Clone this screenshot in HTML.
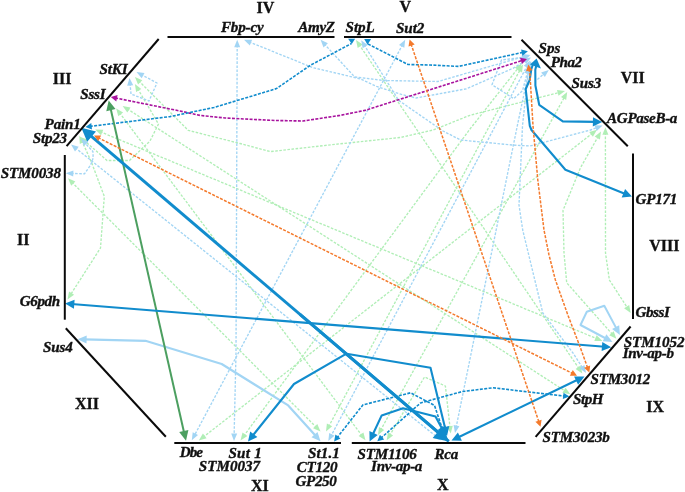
<!DOCTYPE html><html><head><meta charset="utf-8"><title>Network</title><style>html,body{margin:0;padding:0;background:#fff}svg{display:block}text{font-family:"Liberation Serif",serif;font-weight:bold;fill:#111;stroke:#111;stroke-width:.35px}.g{font-style:italic;font-size:15.1px}.r{font-size:16px}</style></head><body>
<svg width="685" height="492" viewBox="0 0 685 492">
<rect width="685" height="492" fill="#fff"/>
<polyline points="358.9,44.3 579.4,369.2" fill="none" stroke="#b0eeb6" stroke-width="1.35" stroke-dasharray="2.6,1.5" stroke-linejoin="round"/>
<polygon points="356.0,40.0 362.7,44.5 357.7,47.9" fill="#b0eeb6"/>
<polygon points="582.3,373.5 575.6,369.0 580.6,365.6" fill="#b0eeb6"/>
<polyline points="81.5,140.5 86.0,150.0 92.0,163.6 104.3,196.4 100.5,248.0 70.3,295.1" fill="none" stroke="#b0eeb6" stroke-width="1.35" stroke-dasharray="2.6,1.5" stroke-linejoin="round"/>
<polygon points="79.3,135.8 85.2,141.3 79.8,143.9" fill="#b0eeb6"/>
<polygon points="67.5,299.5 69.0,291.6 74.1,294.8" fill="#b0eeb6"/>
<polyline points="71.7,182.0 316.8,427.8" fill="none" stroke="#b0eeb6" stroke-width="1.35" stroke-dasharray="2.6,1.5" stroke-linejoin="round"/>
<polygon points="68.0,178.3 75.4,181.5 71.2,185.7" fill="#b0eeb6"/>
<polygon points="320.5,431.5 313.1,428.3 317.3,424.1" fill="#b0eeb6"/>
<polyline points="127.0,108.7 565.9,391.5" fill="none" stroke="#b0eeb6" stroke-width="1.35" stroke-dasharray="2.6,1.5" stroke-linejoin="round"/>
<polygon points="122.6,105.9 130.5,107.4 127.3,112.5" fill="#b0eeb6"/>
<polygon points="570.3,394.3 562.4,392.8 565.6,387.7" fill="#b0eeb6"/>
<polyline points="100.0,131.6 597.6,339.0" fill="none" stroke="#b0eeb6" stroke-width="1.35" stroke-dasharray="2.6,1.5" stroke-linejoin="round"/>
<polygon points="95.2,129.6 103.3,129.7 101.0,135.3" fill="#b0eeb6"/>
<polygon points="602.4,341.0 594.3,340.9 596.6,335.3" fill="#b0eeb6"/>
<polyline points="243.6,436.2 470.0,129.0 518.5,67.6" fill="none" stroke="#b0eeb6" stroke-width="1.35" stroke-dasharray="2.6,1.5" stroke-linejoin="round"/>
<polygon points="240.5,440.4 242.5,432.6 247.4,436.1" fill="#b0eeb6"/>
<polygon points="521.8,63.5 519.5,71.2 514.8,67.5" fill="#b0eeb6"/>
<polyline points="328.5,426.9 487.3,130.0 520.5,69.1" fill="none" stroke="#b0eeb6" stroke-width="1.35" stroke-dasharray="2.6,1.5" stroke-linejoin="round"/>
<polygon points="326.0,431.5 326.9,423.5 332.2,426.3" fill="#b0eeb6"/>
<polygon points="523.0,64.5 522.0,72.5 516.8,69.6" fill="#b0eeb6"/>
<polyline points="202.9,437.4 592.9,132.9" fill="none" stroke="#b0eeb6" stroke-width="1.35" stroke-dasharray="2.6,1.5" stroke-linejoin="round"/>
<polygon points="198.8,440.6 202.9,433.6 206.6,438.3" fill="#b0eeb6"/>
<polygon points="597.0,129.7 592.9,136.7 589.2,132.0" fill="#b0eeb6"/>
<polyline points="380.5,430.4 564.7,96.6" fill="none" stroke="#b0eeb6" stroke-width="1.35" stroke-dasharray="2.6,1.5" stroke-linejoin="round"/>
<polygon points="378.0,435.0 379.0,427.0 384.2,429.9" fill="#b0eeb6"/>
<polygon points="567.2,92.0 566.2,100.0 561.0,97.1" fill="#b0eeb6"/>
<polyline points="598.4,136.1 580.5,167.7 563.0,210.4 564.0,253.0 566.7,282.8 612.9,334.9" fill="none" stroke="#b0eeb6" stroke-width="1.35" stroke-dasharray="2.6,1.5" stroke-linejoin="round"/>
<polygon points="601.0,131.5 599.9,139.5 594.7,136.5" fill="#b0eeb6"/>
<polygon points="616.4,338.8 609.2,335.2 613.7,331.2" fill="#b0eeb6"/>
<polyline points="605.4,132.5 605.5,253.0 609.4,280.0 627.9,308.6" fill="none" stroke="#b0eeb6" stroke-width="1.35" stroke-dasharray="2.6,1.5" stroke-linejoin="round"/>
<polygon points="605.4,127.3 608.4,134.8 602.4,134.8" fill="#b0eeb6"/>
<polygon points="630.7,313.0 624.1,308.3 629.2,305.1" fill="#b0eeb6"/>
<polyline points="389.4,435.8 424.5,377.0 445.4,386.0 450.1,428.3" fill="none" stroke="#b0eeb6" stroke-width="1.35" stroke-dasharray="2.6,1.5" stroke-linejoin="round"/>
<polygon points="386.7,440.3 388.0,432.3 393.1,435.4" fill="#b0eeb6"/>
<polygon points="450.7,433.5 446.9,426.4 452.8,425.7" fill="#b0eeb6"/>
<polyline points="138.6,80.7 188.3,130.4 240.0,143.5 270.4,151.6 340.0,143.8 400.3,137.5 433.0,130.0 470.0,115.3 559.9,92.3" fill="none" stroke="#b0eeb6" stroke-width="1.35" stroke-dasharray="2.6,1.5" stroke-linejoin="round"/>
<polygon points="134.9,77.0 142.3,80.2 138.1,84.4" fill="#b0eeb6"/>
<polygon points="565.0,91.0 558.5,95.8 557.0,90.0" fill="#b0eeb6"/>
<polyline points="119.4,112.6 362.3,436.1" fill="none" stroke="#b0eeb6" stroke-width="1.35" stroke-dasharray="2.6,1.5" stroke-linejoin="round"/>
<polygon points="116.2,108.4 123.1,112.6 118.3,116.2" fill="#b0eeb6"/>
<polygon points="365.5,440.3 358.6,436.1 363.4,432.5" fill="#b0eeb6"/>
<polyline points="137.6,88.5 158.5,124.0 150.0,141.0 129.5,160.5 107.0,160.5 84.3,140.5" fill="none" stroke="#b0eeb6" stroke-width="1.35" stroke-dasharray="2.6,1.5" stroke-linejoin="round"/>
<polygon points="134.9,84.0 141.3,88.9 136.1,92.0" fill="#b0eeb6"/>
<polygon points="80.4,137.0 88.0,139.7 84.0,144.2" fill="#b0eeb6"/>
<polyline points="237.2,44.9 236.0,353.0 234.1,435.8" fill="none" stroke="#a2d5f4" stroke-width="1.35" stroke-dasharray="2.6,1.5" stroke-linejoin="round"/>
<polygon points="237.2,39.7 240.2,47.2 234.2,47.2" fill="#a2d5f4"/>
<polygon points="234.0,441.0 231.2,433.4 237.2,433.6" fill="#a2d5f4"/>
<polyline points="248.9,41.8 313.0,67.7 340.0,74.0 360.5,79.0 376.6,86.4 401.5,94.4 416.0,98.0 440.0,93.7 466.4,88.8 513.0,68.3 526.5,60.2" fill="none" stroke="#a2d5f4" stroke-width="1.35" stroke-dasharray="2.6,1.5" stroke-linejoin="round"/>
<polygon points="244.0,39.8 252.1,39.8 249.8,45.4" fill="#a2d5f4"/>
<polygon points="531.0,57.5 526.1,63.9 523.0,58.8" fill="#a2d5f4"/>
<polyline points="324.1,43.7 354.6,76.9 384.0,80.5 438.0,81.5 512.0,60.0 525.4,56.4" fill="none" stroke="#a2d5f4" stroke-width="1.35" stroke-dasharray="2.6,1.5" stroke-linejoin="round"/>
<polygon points="320.6,39.8 327.9,43.3 323.5,47.4" fill="#a2d5f4"/>
<polygon points="530.5,55.0 524.0,59.9 522.5,54.1" fill="#a2d5f4"/>
<polyline points="364.0,44.7 398.6,100.3 443.0,131.0 460.6,140.0 512.0,145.0 530.0,146.0 590.5,130.0 597.7,127.3" fill="none" stroke="#a2d5f4" stroke-width="1.35" stroke-dasharray="2.6,1.5" stroke-linejoin="round"/>
<polygon points="361.2,40.2 367.7,45.0 362.6,48.2" fill="#a2d5f4"/>
<polygon points="602.6,125.4 596.7,130.9 594.5,125.3" fill="#a2d5f4"/>
<polyline points="402.7,44.4 194.3,435.7" fill="none" stroke="#a2d5f4" stroke-width="1.35" stroke-dasharray="2.6,1.5" stroke-linejoin="round"/>
<polygon points="405.2,39.8 404.3,47.8 399.0,45.0" fill="#a2d5f4"/>
<polygon points="191.8,440.3 192.7,432.3 198.0,435.1" fill="#a2d5f4"/>
<polyline points="75.1,147.7 436.9,437.0" fill="none" stroke="#a2d5f4" stroke-width="1.35" stroke-dasharray="2.6,1.5" stroke-linejoin="round"/>
<polygon points="71.0,144.4 78.7,146.7 75.0,151.4" fill="#a2d5f4"/>
<polygon points="441.0,440.3 433.3,438.0 437.0,433.3" fill="#a2d5f4"/>
<polyline points="71.0,173.4 84.5,173.8 90.6,165.0 93.2,158.0 92.9,151.5 84.5,142.4" fill="none" stroke="#a2d5f4" stroke-width="1.35" stroke-dasharray="2.6,1.5" stroke-linejoin="round"/>
<polygon points="65.8,173.3 73.4,170.5 73.2,176.5" fill="#a2d5f4"/>
<polygon points="81.0,138.5 88.3,142.0 83.9,146.1" fill="#a2d5f4"/>
<polyline points="130.0,83.2 131.0,94.0 149.0,101.0 157.0,83.0 141.1,74.5" fill="none" stroke="#a2d5f4" stroke-width="1.35" stroke-dasharray="2.6,1.5" stroke-linejoin="round"/>
<polygon points="129.5,78.0 133.2,85.2 127.2,85.7" fill="#a2d5f4"/>
<polygon points="136.5,72.0 144.5,72.9 141.7,78.2" fill="#a2d5f4"/>
<polyline points="527.7,71.4 522.5,90.8 513.8,98.7 492.0,84.7 501.5,60.0 524.3,57.2" fill="none" stroke="#a2d5f4" stroke-width="1.35" stroke-dasharray="2.6,1.5" stroke-linejoin="round"/>
<polygon points="529.0,66.3 530.0,74.3 524.2,72.8" fill="#a2d5f4"/>
<polygon points="529.5,56.5 522.4,60.4 521.7,54.5" fill="#a2d5f4"/>
<polyline points="537.4,79.4 544.7,73.3" fill="none" stroke="#a2d5f4" stroke-width="1.35" stroke-dasharray="2.6,1.5" stroke-linejoin="round"/>
<polygon points="548.8,70.0 544.9,77.1 541.1,72.5" fill="#a2d5f4"/>
<polyline points="456.0,427.9 517.3,125.8 529.9,66.1" fill="none" stroke="#a2d5f4" stroke-width="1.35" stroke-dasharray="2.6,1.5" stroke-linejoin="round"/>
<polygon points="455.0,433.0 453.6,425.1 459.4,426.2" fill="#a2d5f4"/>
<polygon points="531.0,61.0 532.4,69.0 526.5,67.7" fill="#a2d5f4"/>
<polyline points="528.5,69.2 522.5,125.8 519.0,205.0 522.7,230.0 542.8,313.0 573.0,353.0 583.1,368.6" fill="none" stroke="#a2d5f4" stroke-width="1.35" stroke-dasharray="2.6,1.5" stroke-linejoin="round"/>
<polygon points="529.0,64.0 531.2,71.8 525.2,71.1" fill="#a2d5f4"/>
<polygon points="586.0,373.0 579.4,368.3 584.4,365.1" fill="#a2d5f4"/>
<polyline points="527.5,65.1 330.8,436.4" fill="none" stroke="#a2d5f4" stroke-width="1.35" stroke-dasharray="2.6,1.5" stroke-linejoin="round"/>
<polygon points="530.0,60.5 529.1,68.5 523.8,65.7" fill="#a2d5f4"/>
<polygon points="328.3,441.0 329.2,433.0 334.5,435.8" fill="#a2d5f4"/>
<polyline points="83.9,339.4 145.4,340.8 221.7,364.0 288.2,405.4 316.3,436.6" fill="none" stroke="#a2d5f4" stroke-width="2.2" stroke-linejoin="round"/>
<polygon points="77.6,339.3 86.7,335.5 86.5,343.5" fill="#a2d5f4"/>
<polygon points="320.5,441.3 311.5,437.3 317.5,431.9" fill="#a2d5f4"/>
<polyline points="616.9,329.4 604.3,305.7 586.8,311.7 580.5,325.0 606.9,339.0" fill="none" stroke="#a2d5f4" stroke-width="2" stroke-linejoin="round"/>
<polygon points="619.9,335.0 612.1,328.9 619.2,325.2" fill="#a2d5f4"/>
<polygon points="612.5,342.0 602.7,341.3 606.4,334.2" fill="#a2d5f4"/>
<polyline points="115.1,97.9 180.0,111.0 200.0,115.4 225.0,118.0 275.4,120.5 303.0,121.0 340.0,115.4 365.0,110.4 522.8,60.3" fill="none" stroke="#a8139e" stroke-width="1.6" stroke-dasharray="3,1.4" stroke-linejoin="round"/>
<polygon points="110.8,97.0 117.6,95.1 116.3,101.4" fill="#a8139e"/>
<polygon points="527.0,59.0 522.0,64.0 520.0,57.8" fill="#a8139e"/>
<polyline points="89.8,126.4 170.0,116.6 214.0,107.5 276.5,88.6 310.5,65.2 351.5,43.5" fill="none" stroke="#118ccd" stroke-width="1.6" stroke-dasharray="3,1.4" stroke-linejoin="round"/>
<polygon points="85.4,126.9 91.3,122.9 92.0,129.4" fill="#118ccd"/>
<polygon points="355.1,38.8 348.1,38.8 351.8,44.1" fill="#118ccd"/>
<polyline points="368.0,44.0 408.0,64.5 430.0,65.0 458.5,66.4 523.6,52.2" fill="none" stroke="#118ccd" stroke-width="1.6" stroke-dasharray="3,1.4" stroke-linejoin="round"/>
<polygon points="527.9,51.3 522.4,55.8 521.1,49.5" fill="#118ccd"/>
<polygon points="364.2,39.1 371.1,39.1 367.5,44.8" fill="#118ccd"/>
<polyline points="336.8,438.0 362.9,404.9 410.6,392.8 434.5,405.4 442.6,429.8" fill="none" stroke="#118ccd" stroke-width="1.6" stroke-dasharray="3,1.4" stroke-linejoin="round"/>
<polygon points="334.1,441.5 335.4,434.5 340.5,438.6" fill="#118ccd"/>
<polygon points="444.0,434.0 438.9,429.0 445.1,427.0" fill="#118ccd"/>
<polyline points="380.6,438.4 420.6,402.9 462.0,391.6 492.8,387.8 565.0,396.1" fill="none" stroke="#118ccd" stroke-width="1.6" stroke-dasharray="3,1.4" stroke-linejoin="round"/>
<polygon points="377.3,441.3 379.9,434.7 384.2,439.6" fill="#118ccd"/>
<polygon points="569.4,396.6 562.8,399.1 563.5,392.7" fill="#118ccd"/>
<polyline points="110.3,107.2 184.4,434.0" fill="none" stroke="#4c9f60" stroke-width="2.0" stroke-linejoin="round"/>
<polygon points="108.7,100.4 115.5,109.1 106.3,111.2" fill="#4c9f60"/>
<polygon points="186.0,440.8 179.2,432.1 188.4,430.0" fill="#4c9f60"/>
<polyline points="71.5,304.0 604.7,346.7" fill="none" stroke="#118ccd" stroke-width="2.1" stroke-linejoin="round"/>
<polygon points="65.0,303.5 74.6,299.7 73.9,308.8" fill="#118ccd"/>
<polygon points="611.2,347.2 601.6,351.0 602.3,341.9" fill="#118ccd"/>
<polyline points="445.5,429.7 430.5,367.7 346.5,353.7 294.0,384.0 252.1,436.4" fill="none" stroke="#118ccd" stroke-width="2.1" stroke-linejoin="round"/>
<polygon points="447.0,436.0 440.3,428.0 449.3,425.9" fill="#118ccd"/>
<polygon points="248.0,441.5 250.2,431.4 257.4,437.1" fill="#118ccd"/>
<polyline points="372.3,435.5 381.7,415.4 403.0,408.2 435.5,416.5 442.9,430.3" fill="none" stroke="#118ccd" stroke-width="2.1" stroke-linejoin="round"/>
<polygon points="369.6,441.4 369.4,431.0 377.7,434.9" fill="#118ccd"/>
<polygon points="446.0,436.0 437.5,430.0 445.6,425.6" fill="#118ccd"/>
<polyline points="578.6,379.3 457.4,437.8" fill="none" stroke="#118ccd" stroke-width="2.1" stroke-linejoin="round"/>
<polygon points="584.5,376.5 578.1,384.7 574.1,376.4" fill="#118ccd"/>
<polygon points="451.5,440.6 457.9,432.4 461.9,440.7" fill="#118ccd"/>
<polyline points="536.2,66.0 535.3,69.8 535.4,85.5 539.2,104.8 562.8,121.4 595.7,121.9" fill="none" stroke="#118ccd" stroke-width="2.1" stroke-linejoin="round"/>
<polygon points="602.2,122.0 592.8,126.5 593.0,117.3" fill="#118ccd"/>
<polyline points="532.8,65.0 531.3,69.0 529.7,80.0 525.7,89.0 529.8,125.8 531.5,130.0 565.4,169.7 626.0,194.2" fill="none" stroke="#118ccd" stroke-width="2.1" stroke-linejoin="round"/>
<polygon points="632.0,196.6 621.7,197.4 625.1,188.9" fill="#118ccd"/>
<polygon points="536.6,58.4 530,64.6 540.9,68.4" fill="#118ccd"/>
<polyline points="88.5,133.9 448.8,441.4" fill="none" stroke="#118ccd" stroke-width="3.0" stroke-linejoin="round"/>
<polygon points="81.3,127.8 96.0,131.4 87.2,141.7" fill="#118ccd"/>
<polyline points="300.0,314.3 441.1,434.8" fill="none" stroke="#118ccd" stroke-width="3.0" stroke-linejoin="round"/>
<polygon points="448.8,441.4 432.7,437.9 442.8,426.1" fill="#118ccd"/>
<polyline points="97.9,137.6 573.1,373.7" fill="none" stroke="#f47a2c" stroke-width="1.5" stroke-dasharray="3,1.4" stroke-linejoin="round"/>
<polygon points="94.0,135.6 101.1,135.5 98.2,141.3" fill="#f47a2c"/>
<polygon points="577.0,375.7 569.9,375.8 572.8,370.0" fill="#f47a2c"/>
<polyline points="411.0,43.8 539.1,422.5" fill="none" stroke="#f47a2c" stroke-width="1.5" stroke-dasharray="3,1.4" stroke-linejoin="round"/>
<polygon points="409.6,39.6 414.7,44.5 408.5,46.6" fill="#f47a2c"/>
<polygon points="540.5,426.7 535.4,421.8 541.6,419.7" fill="#f47a2c"/>
<polyline points="529.0,68.9 530.0,75.0 533.0,125.8 537.8,180.0 544.0,230.0 549.0,255.0 555.4,280.0 568.0,315.4 580.5,348.0 587.8,368.3" fill="none" stroke="#f47a2c" stroke-width="1.5" stroke-dasharray="3,1.4" stroke-linejoin="round"/>
<polygon points="528.3,64.5 532.5,70.2 526.1,71.2" fill="#f47a2c"/>
<polygon points="589.3,372.5 584.1,367.7 590.2,365.5" fill="#f47a2c"/>
<g stroke="#0a0a0a" stroke-width="2" stroke-linecap="butt" fill="none">
<line x1="167.5" y1="37" x2="334.5" y2="37"/>
<line x1="344" y1="37" x2="511.5" y2="37"/>
<line x1="521.5" y1="39.7" x2="627.8" y2="146.2"/>
<line x1="633" y1="153.5" x2="633" y2="319"/>
<line x1="630.6" y1="326.5" x2="535.6" y2="436.8"/>
<line x1="351.8" y1="443" x2="525.5" y2="443"/>
<line x1="174.3" y1="443" x2="341" y2="443"/>
<line x1="65.8" y1="328.3" x2="165.8" y2="436.8"/>
<line x1="64.8" y1="155" x2="64.8" y2="319.7"/>
<line x1="158.7" y1="39" x2="66.6" y2="146.2"/>
</g>
<g class="g">
<text class="g" x="220.9" y="31.5" textLength="42.8" lengthAdjust="spacing">Fbp-cy</text>
<text class="g" x="298.3" y="31.6" textLength="36.8" lengthAdjust="spacing">AmyZ</text>
<text class="g" x="345.5" y="32.3" textLength="29.3" lengthAdjust="spacing">StpL</text>
<text class="g" x="396.0" y="33.1" textLength="28.3" lengthAdjust="spacing">Sut2</text>
<text class="g" x="538.6" y="53.1" textLength="21.8" lengthAdjust="spacing">Sps</text>
<text class="g" x="550.8" y="66.6" textLength="31.3" lengthAdjust="spacing">Pha2</text>
<text class="g" x="571.4" y="87.6" textLength="29.8" lengthAdjust="spacing">Sus3</text>
<text class="g" x="607.1" y="123.2" textLength="70.3" lengthAdjust="spacing">AGPaseB-a</text>
<text class="g" x="635.5" y="204.2" textLength="41.8" lengthAdjust="spacing">GP171</text>
<text class="g" x="635.5" y="316.9" textLength="34.3" lengthAdjust="spacing">GbssI</text>
<text class="g" x="623.7" y="346.9" textLength="60.8" lengthAdjust="spacing">STM1052</text>
<text class="g" x="622.7" y="358.2" textLength="51.3" lengthAdjust="spacing">Inv-ap-b</text>
<text class="g" x="590.5" y="384.3" textLength="59.8" lengthAdjust="spacing">STM3012</text>
<text class="g" x="573.1" y="404.1" textLength="30.3" lengthAdjust="spacing">StpH</text>
<text class="g" x="542.6" y="442.0" textLength="67.3" lengthAdjust="spacing">STM3023b</text>
<text class="g" x="357.5" y="458.6" textLength="59.3" lengthAdjust="spacing">STM1106</text>
<text class="g" x="371.1" y="471.1" textLength="51.3" lengthAdjust="spacing">Inv-ap-a</text>
<text class="g" x="434.4" y="459.3" textLength="23.8" lengthAdjust="spacing">Rca</text>
<text class="g" x="179.7" y="456.8" textLength="23.3" lengthAdjust="spacing">Dbe</text>
<text class="g" x="228.4" y="458.3" textLength="33.3" lengthAdjust="spacing">Sut 1</text>
<text class="g" x="198.8" y="471.3" textLength="61.3" lengthAdjust="spacing">STM0037</text>
<text class="g" x="308.1" y="458.3" textLength="31.8" lengthAdjust="spacing">St1.1</text>
<text class="g" x="296.8" y="472.3" textLength="40.8" lengthAdjust="spacing">CT120</text>
<text class="g" x="295.5" y="486.3" textLength="41.3" lengthAdjust="spacing">GP250</text>
<text class="g" x="42.9" y="351.9" textLength="29.8" lengthAdjust="spacing">Sus4</text>
<text class="g" x="19.8" y="306.3" textLength="40.3" lengthAdjust="spacing">G6pdh</text>
<text class="g" x="0.7" y="178.0" textLength="60.3" lengthAdjust="spacing">STM0038</text>
<text class="g" x="32.8" y="143.1" textLength="34.3" lengthAdjust="spacing">Stp23</text>
<text class="g" x="44.6" y="128.8" textLength="36.3" lengthAdjust="spacing">Pain1</text>
<text class="g" x="80.3" y="98.5" textLength="25.3" lengthAdjust="spacing">SssI</text>
<text class="g" x="99.4" y="73.5" textLength="28.3" lengthAdjust="spacing">StKI</text>
</g><g>
<text class="r" x="256.5" y="12.6">IV</text>
<text class="r" x="399.5" y="11.8">V</text>
<text class="r" x="620.7" y="82.8">VII</text>
<text class="r" x="649.2" y="251.1">VIII</text>
<text class="r" x="646.2" y="412.2">IX</text>
<text class="r" x="437" y="490.0">X</text>
<text class="r" x="251" y="491.1">XI</text>
<text class="r" x="74.9" y="408.6">XII</text>
<text class="r" x="17" y="245.0">II</text>
<text class="r" x="52.8" y="83.9">III</text>
</g></svg></body></html>
